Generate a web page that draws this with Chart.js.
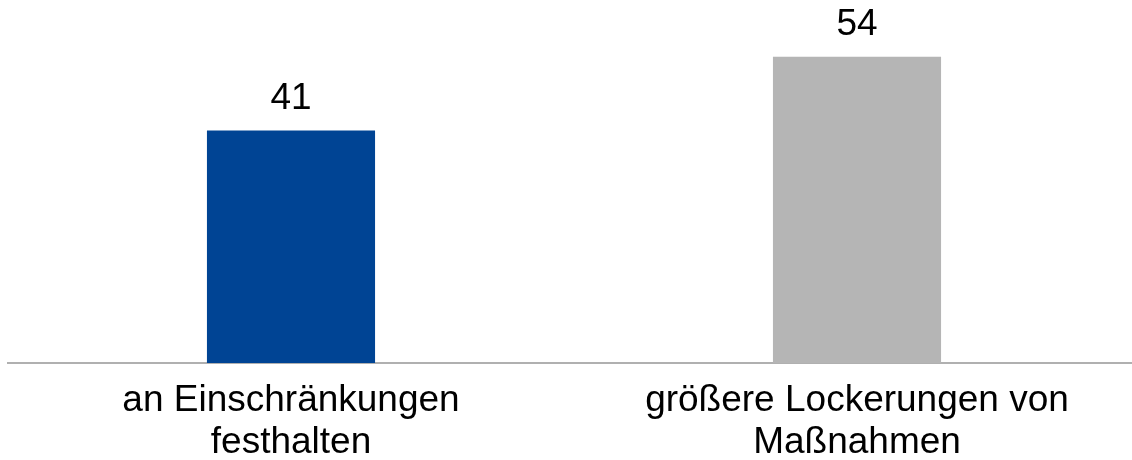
<!DOCTYPE html>
<html>
<head>
<meta charset="utf-8">
<script src="https://cdn.jsdelivr.net/npm/chart.js@4"></script>
<style>
  html, body { margin: 0; padding: 0; background: #fff; overflow: hidden; }
  #wrap { width: 1140px; height: 481px; }
</style>
</head>
<body>
<div id="wrap"><canvas id="chart"></canvas></div>
<script>
// data
const categories = [
  ["an Einschränkungen", "festhalten"],
  ["größere Lockerungen von", "Maßnahmen"]
];
const values = [41, 54];
const barColors = ["#004494", "#b5b5b5"];

// draws the value above each bar
const valueLabels = {
  id: "valueLabels",
  afterDatasetsDraw(chart) {
    const ctx = chart.ctx;
    const meta = chart.getDatasetMeta(0);
    ctx.save();
    ctx.font = "37px 'Liberation Sans', Arial, sans-serif";
    ctx.fillStyle = "#000";
    ctx.textAlign = "center";
    ctx.textBaseline = "bottom";
    meta.data.forEach((bar, i) => {
      ctx.fillText(String(values[i]), bar.x, bar.y - 13);
    });
    ctx.restore();
  }
};

new Chart(document.getElementById("chart"), {
  type: "bar",
  data: {
    labels: categories,
    datasets: [{
      data: values,
      backgroundColor: barColors,
      categoryPercentage: 1,
      barPercentage: 0.297
    }]
  },
  options: {
    responsive: true,
    maintainAspectRatio: false,
    animation: false,
    layout: { padding: { left: 8, right: 0, top: 0, bottom: 0 } },
    plugins: { legend: { display: false }, tooltip: { enabled: false } },
    scales: {
      x: {
        grid: { display: false, drawTicks: false },
        border: { display: true, color: "#b0b0b0", width: 2 },
        ticks: {
          color: "#000",
          padding: 17,
          maxRotation: 0,
          font: { family: "'Liberation Sans', Arial, sans-serif", size: 37, lineHeight: 1.135 }
        }
      },
      y: {
        display: false,
        min: 0,
        max: 64
      }
    }
  },
  plugins: [valueLabels]
});
</script>
</body>
</html>
